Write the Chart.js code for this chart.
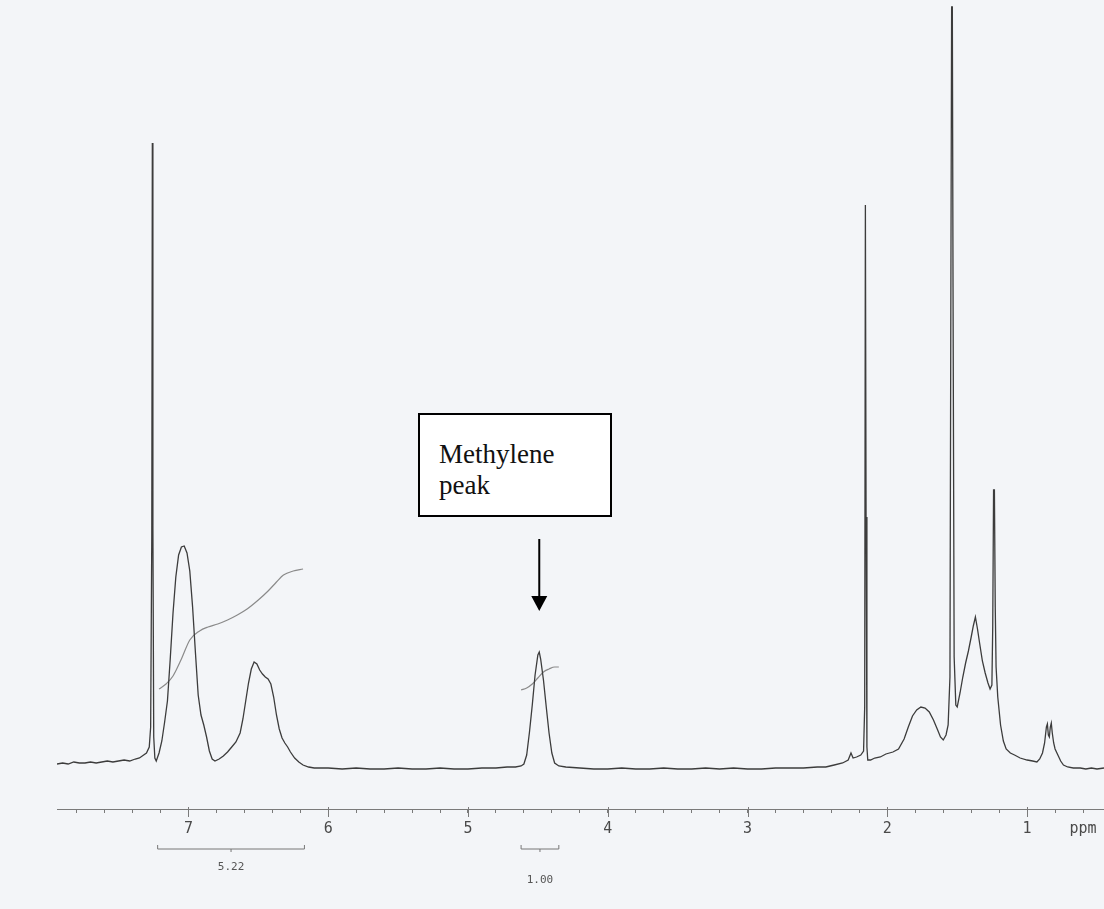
<!DOCTYPE html>
<html>
<head>
<meta charset="utf-8">
<script src="https://cdn.jsdelivr.net/npm/chart.js@4.4.0/dist/chart.umd.min.js"></script>
<style>
  html, body { margin: 0; padding: 0; background: #f3f5f8; }
  #wrap { position: relative; width: 1104px; height: 909px; }
  #note {
    position: absolute; left: 418px; top: 413px; width: 194px; height: 104px;
    box-sizing: border-box; border: 2px solid #000; background: #fff;
    font-family: 'Liberation Serif', 'Times New Roman', serif; font-size: 27px;
    line-height: 31px; padding: 24px 0 0 19px; color: #111;
  }
</style>
</head>
<body>
<div id="wrap">
  <canvas id="nmr" width="1104" height="909"></canvas>
  <div id="note">Methylene<br>peak</div>
</div>
<script>
// 1H spectrum: chemical shift (ppm) and height above baseline
const specPpm = [
  7.94, 7.90, 7.86, 7.82, 7.78, 7.74, 7.70, 7.66, 7.62, 7.58, 7.54, 7.50, 7.46, 7.42, 7.38, 7.35, 7.32, 7.30, 7.28, 7.27,
  7.262, 7.258, 7.254, 7.248, 7.24, 7.23, 7.21, 7.19, 7.17, 7.15, 7.13, 7.11, 7.09, 7.07, 7.05, 7.03, 7.01, 6.99, 6.97, 6.95,
  6.93, 6.91, 6.89, 6.87, 6.85, 6.83, 6.81, 6.78, 6.75, 6.72, 6.69, 6.66, 6.63, 6.61, 6.59, 6.57, 6.55, 6.53, 6.51, 6.49,
  6.47, 6.45, 6.43, 6.41, 6.39, 6.37, 6.35, 6.33, 6.31, 6.29, 6.27, 6.24, 6.21, 6.18, 6.14, 6.10, 6.00, 5.90, 5.80, 5.70,
  5.60, 5.50, 5.40, 5.30, 5.20, 5.10, 5.00, 4.90, 4.80, 4.72, 4.66, 4.62, 4.60, 4.58, 4.56, 4.54, 4.52, 4.50, 4.49, 4.48,
  4.46, 4.44, 4.42, 4.40, 4.38, 4.35, 4.30, 4.20, 4.10, 4.00, 3.90, 3.80, 3.70, 3.60, 3.50, 3.40, 3.30, 3.20, 3.10, 3.00,
  2.90, 2.80, 2.70, 2.60, 2.50, 2.44, 2.38, 2.32, 2.28, 2.26, 2.245, 2.22, 2.19, 2.17, 2.162, 2.157, 2.152, 2.146, 2.14, 2.12,
  2.09, 2.05, 2.01, 1.96, 1.92, 1.88, 1.85, 1.82, 1.79, 1.76, 1.73, 1.70, 1.67, 1.64, 1.62, 1.60, 1.58, 1.565, 1.552, 1.545,
  1.54, 1.535, 1.53, 1.522, 1.51, 1.50, 1.48, 1.46, 1.44, 1.42, 1.40, 1.385, 1.37, 1.355, 1.34, 1.32, 1.30, 1.28, 1.265, 1.252,
  1.246, 1.24, 1.234, 1.228, 1.222, 1.21, 1.19, 1.17, 1.15, 1.12, 1.09, 1.05, 1.00, 0.96, 0.93, 0.91, 0.89, 0.875, 0.862, 0.855,
  0.848, 0.841, 0.834, 0.827, 0.82, 0.81, 0.80, 0.78, 0.76, 0.74, 0.71, 0.67, 0.62, 0.58, 0.54, 0.50, 0.45
];
const specInt = [
  3, 4, 3, 5, 4, 4, 5, 4, 5, 6, 5, 6, 7, 6, 8, 9, 12, 14, 20, 40,
  230, 624, 240, 30, 9, 6, 14, 26, 45, 66, 108, 154, 190, 212, 220, 221, 214, 196, 160, 115,
  72, 52, 42, 30, 16, 8, 6, 8, 11, 15, 20, 25, 34, 48, 66, 84, 98, 105, 103, 97,
  93, 90, 88, 83, 70, 52, 38, 29, 24, 20, 15, 9, 5, 2, 0, -1, -1, -2, -1, -2,
  -2, -1, -2, -2, -1, -2, -2, -1, -1, 0, 0, 1, 3, 12, 35, 62, 92, 112, 115, 108,
  87, 60, 34, 14, 4, 1, 0, -1, -2, -2, -1, -2, -2, -1, -2, -2, -1, -2, -1, -2,
  -2, -1, -1, -1, 0, 0, 2, 4, 7, 14, 9, 10, 12, 16, 60, 562, 250, 20, 7, 7,
  9, 10, 13, 15, 18, 28, 40, 51, 57, 60, 59, 55, 47, 37, 30, 27, 32, 42, 90, 500,
  760, 760, 480, 110, 62, 60, 74, 90, 104, 116, 130, 141, 150, 138, 124, 106, 94, 84, 78, 82,
  140, 277, 277, 160, 100, 70, 42, 26, 18, 14, 12, 9, 7, 6, 5, 8, 14, 24, 40, 43,
  32, 30, 40, 44, 34, 24, 18, 12, 6, 2, 0, -1, -1, -2, -1, -2, -1
];

// integral traces
const integAromPpm = [7.21, 7.16, 7.11, 7.05, 6.99, 6.92, 6.86, 6.79, 6.72, 6.65, 6.58, 6.50, 6.43, 6.37, 6.32, 6.25, 6.18];
const integAromVal = [78, 83, 91, 108, 127, 136, 140, 143, 147, 152, 158, 167, 176, 185, 192, 196, 198];
const integCh2Ppm = [4.62, 4.58, 4.54, 4.50, 4.46, 4.42, 4.38, 4.35];
const integCh2Val = [77, 79, 83, 89, 95, 98, 100, 100];

// integral brackets under the axis
const integLabels = ['5.22', '1.00'];
const integFrom = [7.22, 4.62];
const integTo = [6.17, 4.35];

const ppmMin = 0.45;
const ppmMax = 7.94;

function pts(xs, ys) {
  return xs.map((x, i) => ({ x: x, y: ys[i] }));
}

const extras = {
  id: 'extras',
  afterDatasetsDraw(chart) {
    const ctx = chart.ctx;
    const x = chart.scales.x;
    const y = chart.scales.y;
    ctx.save();

    // arrow pointing at the methylene peak
    const ax = x.getPixelForValue(4.49);
    const ay0 = y.getPixelForValue(228);
    const ay1 = y.getPixelForValue(156);
    ctx.strokeStyle = '#000';
    ctx.fillStyle = '#000';
    ctx.lineWidth = 2;
    ctx.beginPath();
    ctx.moveTo(ax, ay0);
    ctx.lineTo(ax, ay1 - 12);
    ctx.stroke();
    ctx.beginPath();
    ctx.moveTo(ax - 8, ay1 - 15);
    ctx.lineTo(ax + 8, ay1 - 15);
    ctx.lineTo(ax, ay1);
    ctx.closePath();
    ctx.fill();

    // longer marks at the whole-ppm ticks
    ctx.lineWidth = 1;
    ctx.strokeStyle = '#7a7a7a';
    x.ticks.forEach((t) => {
      if (Math.abs(t.value - Math.round(t.value)) > 1e-6) return;
      const tx = Math.round(x.getPixelForValue(t.value)) + 0.5;
      ctx.beginPath();
      ctx.moveTo(tx, x.top - 2);
      ctx.lineTo(tx, x.top + 8);
      ctx.stroke();
    });

    // integral brackets
    const by = x.top + 40;
    ctx.strokeStyle = '#777';
    ctx.fillStyle = '#555';
    ctx.font = '11px "DejaVu Sans Mono"';
    ctx.textAlign = 'center';
    ctx.textBaseline = 'middle';
    integLabels.forEach((lab, i) => {
      const xa = x.getPixelForValue(integFrom[i]);
      const xb = x.getPixelForValue(integTo[i]);
      const xm = (xa + xb) / 2;
      ctx.beginPath();
      ctx.moveTo(xa, by - 4);
      ctx.lineTo(xa, by);
      ctx.lineTo(xb, by);
      ctx.lineTo(xb, by - 4);
      ctx.moveTo(xm, by);
      ctx.lineTo(xm, by + 3);
      ctx.stroke();
      ctx.fillText(lab, xm, by + (i === 0 ? 18 : 31));
    });
    ctx.restore();
  }
};

new Chart(document.getElementById('nmr'), {
  type: 'line',
  data: {
    datasets: [
      {
        data: pts(specPpm, specInt),
        borderColor: '#3c3c3c',
        borderWidth: 1.3,
        pointRadius: 0,
        tension: 0
      },
      {
        data: pts(integAromPpm, integAromVal),
        borderColor: '#8a8a8a',
        borderWidth: 1.2,
        pointRadius: 0,
        cubicInterpolationMode: 'monotone'
      },
      {
        data: pts(integCh2Ppm, integCh2Val),
        borderColor: '#8a8a8a',
        borderWidth: 1.2,
        pointRadius: 0,
        cubicInterpolationMode: 'monotone'
      }
    ]
  },
  options: {
    responsive: false,
    animation: false,
    devicePixelRatio: 1,
    layout: { padding: { left: 57, right: 0, top: 0, bottom: 0 } },
    plugins: { legend: { display: false }, tooltip: { enabled: false } },
    scales: {
      x: {
        type: 'linear',
        reverse: true,
        min: ppmMin,
        max: ppmMax,
        afterFit: (s) => { s.height = 100; },
        border: { color: '#7a7a7a', width: 1 },
        grid: { drawOnChartArea: false, drawTicks: true, tickLength: 4, tickColor: '#7a7a7a' },
        ticks: {
          stepSize: 0.2,
          autoSkip: false,
          includeBounds: false,
          maxRotation: 0,
          padding: 7,
          color: '#4a4a4a',
          font: { family: 'DejaVu Sans Mono', size: 15 },
          callback: (v) => {
            if (Math.abs(v - Math.round(v)) < 1e-6) return String(Math.round(v));
            if (Math.abs(v - 0.6) < 1e-6) return 'ppm';
            return '';
          }
        }
      },
      y: { display: false, min: -42, max: 767 }
    }
  },
  plugins: [extras]
});
</script>
</body>
</html>
